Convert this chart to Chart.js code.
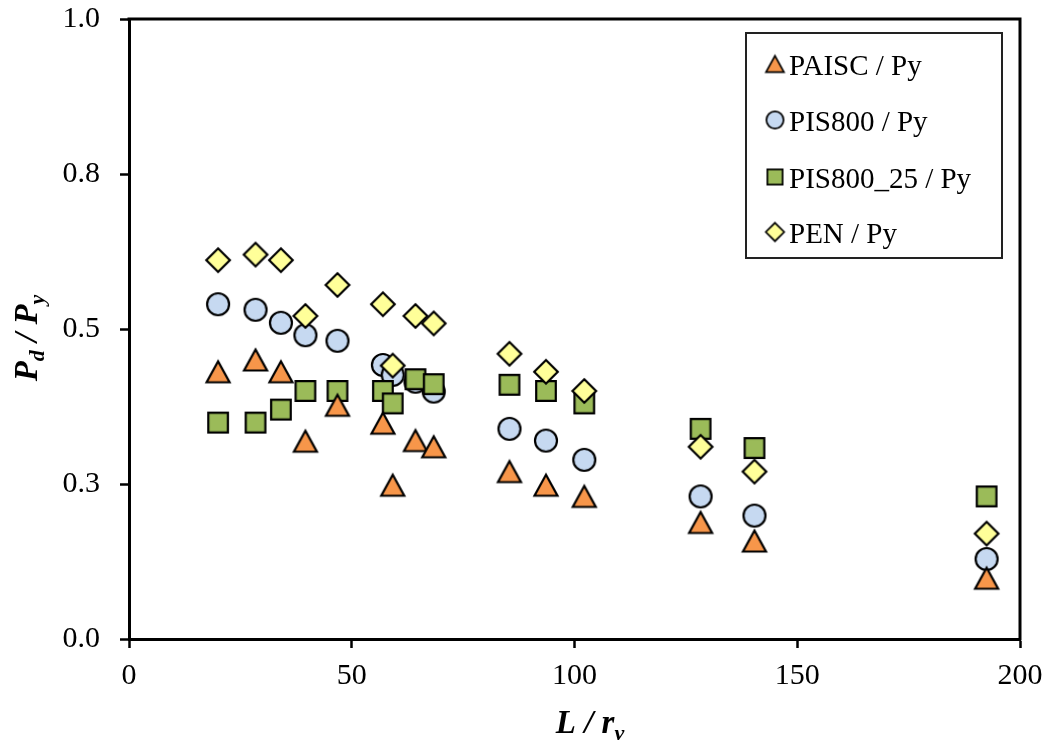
<!DOCTYPE html>
<html>
<head>
<meta charset="utf-8">
<script src="https://cdn.jsdelivr.net/npm/chart.js@4.4.1/dist/chart.umd.min.js"></script>
<style>
  html, body { margin: 0; padding: 0; background: #fff; }
  #wrap { width: 1048px; height: 742px; position: relative; }
</style>
</head>
<body>
<div id="wrap"><canvas id="c" width="1048" height="742"></canvas></div>
<script>
// ---- Data ----
const lrValues = [20, 28.4, 34.1, 39.6, 46.8, 57, 59.2, 64.3, 68.4, 85.4, 93.6, 102.2, 128.3, 140.4, 192.5];
const paiscPy   = [0.431, 0.450, 0.431, 0.319, 0.377, 0.348, 0.248, 0.320, 0.310, 0.270, 0.248, 0.230, 0.188, 0.158, 0.098];
const pis800Py  = [0.540, 0.531, 0.510, 0.490, 0.481, 0.442, 0.426, 0.415, 0.399, 0.339, 0.320, 0.289, 0.230, 0.199, 0.129];
const pis80025Py= [0.349, 0.349, 0.370, 0.400, 0.400, 0.400, 0.380, 0.419, 0.411, 0.410, 0.400, 0.380, 0.339, 0.308, 0.230];
const penPy     = [0.611, 0.620, 0.611, 0.521, 0.571, 0.540, 0.441, 0.521, 0.509, 0.460, 0.431, 0.400, 0.310, 0.270, 0.170];
const seriesNames = ['PAISC / Py', 'PIS800 / Py', 'PIS800_25 / Py', 'PEN / Py'];
const xTickValues = [0, 50, 100, 150, 200];
const xTickLabels = ['0', '50', '100', '150', '200'];
const yTickValues = [0, 0.25, 0.5, 0.75, 1.0];
const yTickLabels = ['0.0', '0.3', '0.5', '0.8', '1.0'];

// ---- Styles ----
const SERIF = "'Liberation Serif', 'Times New Roman', serif";
const fills = ['#F7964A', '#C6D9F1', '#9BBB59', '#FFFF99'];
const shapes = ['triangle', 'circle', 'square', 'diamond'];

function makeMarker(shape, fill, scale) {
  const S = Math.ceil(32 * scale);
  const c = document.createElement('canvas');
  c.width = S; c.height = S;
  const g = c.getContext('2d');
  const m = S / 2;
  g.translate(m, m);
  g.scale(scale, scale);
  g.beginPath();
  if (shape === 'triangle') {
    g.moveTo(0, -10.5); g.lineTo(11.5, 10.5); g.lineTo(-11.5, 10.5); g.closePath();
  } else if (shape === 'circle') {
    g.arc(0, 0, 11, 0, Math.PI * 2);
  } else if (shape === 'square') {
    g.rect(-9.8, -9.8, 19.6, 19.6);
  } else {
    g.moveTo(0, -11.8); g.lineTo(11.8, 0); g.lineTo(0, 11.8); g.lineTo(-11.8, 0); g.closePath();
  }
  g.fillStyle = fill; g.fill();
  g.lineWidth = 2.2; g.strokeStyle = '#000'; g.lineJoin = 'miter'; g.stroke();
  return c;
}

const bigMarkers = shapes.map((s, i) => makeMarker(s, fills[i], 1));
const smallMarkers = shapes.map((s, i) => makeMarker(s, fills[i], 0.78));

function pts(ys) { return lrValues.map((x, i) => ({ x: x, y: ys[i] })); }
const allSeries = [paiscPy, pis800Py, pis80025Py, penPy];
const orders = [1, 4, 3, 2];

const datasets = allSeries.map((ys, i) => ({
  label: seriesNames[i],
  data: pts(ys),
  pointStyle: bigMarkers[i],
  pointRadius: 12,
  pointHoverRadius: 12,
  showLine: false,
  order: orders[i]
}));

// ---- Plugins: frame, legend, axis titles with subscripts ----
function drawSubText(ctx, parts, x, y, align) {
  const mainFont = "italic bold 33px " + SERIF;
  const subFont = "italic bold 22px " + SERIF;
  let w = 0;
  parts.forEach(p => { ctx.font = p.sub ? subFont : mainFont; w += ctx.measureText(p.t).width; });
  let cx = align === 'center' ? x - w / 2 : x;
  ctx.textBaseline = 'alphabetic';
  ctx.textAlign = 'left';
  parts.forEach(p => {
    ctx.font = p.sub ? subFont : mainFont;
    ctx.fillText(p.t, cx, p.sub ? y + 7 : y);
    cx += ctx.measureText(p.t).width;
  });
}

const decor = {
  id: 'decor',
  afterDraw(chart) {
    const ctx = chart.ctx;
    const a = chart.chartArea;
    ctx.save();
    ctx.strokeStyle = '#000';
    ctx.lineWidth = 3;
    ctx.beginPath();
    ctx.moveTo(a.left - 1.5, a.top);
    ctx.lineTo(a.right, a.top);
    ctx.lineTo(a.right, a.bottom + 1.5);
    ctx.stroke();

    const lx = 746, ly = 33, lw = 256, lh = 225;
    ctx.fillStyle = '#fff';
    ctx.fillRect(lx, ly, lw, lh);
    ctx.lineWidth = 2;
    ctx.strokeStyle = '#222';
    ctx.strokeRect(lx, ly, lw, lh);
    const markerY = [64, 120, 177, 232];
    const baseY = [75, 131, 188, 243];
    ctx.fillStyle = '#000';
    ctx.font = "29px " + SERIF;
    ctx.textAlign = 'left';
    ctx.textBaseline = 'alphabetic';
    for (let i = 0; i < 4; i++) {
      const m = smallMarkers[i];
      ctx.drawImage(m, 775 - m.width / 2, markerY[i] - m.height / 2);
      ctx.fillText(seriesNames[i], 789, baseY[i]);
    }

    ctx.fillStyle = '#000';
    drawSubText(ctx, [{ t: 'L / r' }, { t: 'v', sub: true }], 590, 733, 'center');
    ctx.translate(37, 338);
    ctx.rotate(-Math.PI / 2);
    drawSubText(ctx, [{ t: 'P' }, { t: 'd', sub: true }, { t: ' / P' }, { t: 'y', sub: true }], 0, 0, 'center');
    ctx.restore();
  }
};

new Chart(document.getElementById('c'), {
  type: 'scatter',
  data: { datasets: datasets },
  options: {
    responsive: false,
    animation: false,
    events: [],
    layout: { padding: { top: 19, right: 28, left: 0, bottom: 0 } },
    plugins: { legend: { display: false }, tooltip: { enabled: false } },
    scales: {
      x: {
        type: 'linear', min: 0, max: 200,
        afterFit(s) { s.height = 103; s.paddingLeft = 0; s.paddingRight = 0; },
        afterBuildTicks(s) { s.ticks = xTickValues.map(v => ({ value: v })); },
        ticks: {
          color: '#000', padding: 10, maxRotation: 0,
          font: { family: SERIF, size: 30 },
          callback: (v) => xTickLabels[xTickValues.indexOf(v)]
        },
        grid: { drawOnChartArea: false, drawTicks: true, tickLength: 9, tickWidth: 2.5, tickColor: '#000' },
        border: { display: true, color: '#000', width: 3 }
      },
      y: {
        type: 'linear', min: 0, max: 1,
        afterFit(s) { s.width = 129; s.paddingTop = 0; s.paddingBottom = 0; },
        afterBuildTicks(s) { s.ticks = yTickValues.map(v => ({ value: v })); },
        ticks: {
          color: '#000', padding: 20,
          font: { family: SERIF, size: 30 },
          callback: (v) => yTickLabels[yTickValues.indexOf(v)]
        },
        grid: { drawOnChartArea: false, drawTicks: true, tickLength: 9, tickWidth: 2.5, tickColor: '#000' },
        border: { display: true, color: '#000', width: 3 }
      }
    }
  },
  plugins: [decor]
});
</script>
</body>
</html>
